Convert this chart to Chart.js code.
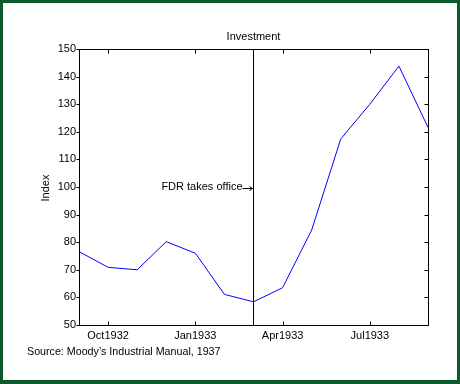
<!DOCTYPE html>
<html>
<head>
<meta charset="utf-8">
<script src="https://cdn.jsdelivr.net/npm/chart.js"></script>
<style>
  html, body { margin: 0; padding: 0; background: #fff; }
  #frame {
    width: 460px; height: 384px; box-sizing: border-box;
    border-style: solid; border-color: #0b5a2e;
    border-width: 3px 3px 4px 3px; background: #fff;
  }
  canvas { display: block; }
</style>
</head>
<body>
<div id="frame"><canvas id="myChart" width="454" height="377"></canvas></div>
<script>
// monthly observations, Sep1932 .. Sep1933
const months = ['Sep1932','Oct1932','Nov1932','Dec1932','Jan1933','Feb1933','Mar1933',
                'Apr1933','May1933','Jun1933','Jul1933','Aug1933','Sep1933'];
const investment = [76.6, 70.9, 70.0, 80.2, 76.0, 61.1, 58.4, 63.5, 84.4, 117.4, 130.0, 143.8, 121.6];
const xTickIdx = [1, 4, 7, 10];
const fdrIdx = 6;        // March 1933
const fdrLabelValue = 100;

const FONT = '11px "Liberation Sans", Arial, Helvetica, sans-serif';

const points = investment.map((v, i) => ({ x: i, y: v }));

const framePlugin = {
  id: 'framePlugin',
  afterDraw(chart) {
    const ctx = chart.ctx;
    const a = chart.chartArea;
    const xs = chart.scales.x, ys = chart.scales.y;
    const L = Math.round(a.left) + 0.5, R = Math.round(a.right) + 0.5;
    const T = Math.round(a.top) + 0.5, B = Math.round(a.bottom) + 0.5;
    ctx.save();
    ctx.strokeStyle = '#000';
    ctx.lineWidth = 1;
    ctx.strokeRect(L, T, R - L, B - T);

    ctx.beginPath();
    // y ticks: outward on left, inward on right
    for (let v = 50; v <= 150; v += 10) {
      const y = Math.round(ys.getPixelForValue(v)) + 0.5;
      ctx.moveTo(L - 3, y); ctx.lineTo(L, y);
      ctx.moveTo(R - 4, y); ctx.lineTo(R, y);
    }
    // x ticks inward top and bottom
    xTickIdx.forEach(i => {
      const x = Math.round(xs.getPixelForValue(i)) + 0.5;
      ctx.moveTo(x, B); ctx.lineTo(x, B - 4);
      ctx.moveTo(x, T); ctx.lineTo(x, T + 4);
    });
    ctx.stroke();

    // FDR vertical line
    const fx = Math.round(xs.getPixelForValue(fdrIdx)) - 0.5;
    ctx.beginPath();
    ctx.moveTo(fx, T); ctx.lineTo(fx, B);
    ctx.stroke();

    ctx.fillStyle = '#000';
    ctx.font = FONT;

    // FDR annotation with arrow
    const fy = Math.round(ys.getPixelForValue(fdrLabelValue));
    ctx.textAlign = 'right';
    ctx.textBaseline = 'middle';
    ctx.fillText('FDR takes office', fx - 11, fy);
    ctx.beginPath();
    ctx.moveTo(fx - 11, fy + 1.5); ctx.lineTo(fx - 1, fy + 1.5);
    ctx.moveTo(fx - 4, fy - 0.5); ctx.lineTo(fx - 1, fy + 1.5); ctx.lineTo(fx - 4, fy + 3.5);
    ctx.stroke();

    // title
    ctx.textAlign = 'center';
    ctx.fillText('Investment', (a.left + a.right) / 2, 34);

    // y axis title
    ctx.save();
    ctx.translate(43, (a.top + a.bottom) / 2 + 1);
    ctx.rotate(-Math.PI / 2);
    ctx.fillText('Index', 0, 0);
    ctx.restore();

    // source note
    ctx.textAlign = 'left';
    ctx.font = '10.7px "Liberation Sans", Arial, Helvetica, sans-serif';
    ctx.fillText('Source: Moody\u2019s Industrial Manual, 1937', 24, 349);
    ctx.restore();
  }
};

new Chart(document.getElementById('myChart'), {
  type: 'line',
  data: {
    datasets: [{
      data: points,
      borderColor: '#0000ff',
      borderWidth: 1,
      pointRadius: 0,
      tension: 0,
      fill: false
    }]
  },
  options: {
    responsive: false,
    devicePixelRatio: 1,
    animation: false,
    layout: { padding: { top: 46, right: 29, bottom: 35, left: 0 } },
    plugins: { legend: { display: false }, tooltip: { enabled: false } },
    scales: {
      x: {
        type: 'linear',
        min: 0, max: 12,
        grid: { display: false, drawTicks: false },
        border: { display: false },
        afterBuildTicks: s => { s.ticks = xTickIdx.map(v => ({ value: v })); },
        afterFit: s => { s.height = 20; },
        ticks: {
          padding: 4,
          maxRotation: 0,
          autoSkip: false,
          color: '#000',
          font: { family: '"Liberation Sans", Arial, sans-serif', size: 11 },
          callback: v => months[v]
        }
      },
      y: {
        min: 50, max: 150,
        grid: { display: false, drawTicks: false },
        border: { display: false },
        afterFit: s => { s.width = 76; },
        ticks: {
          stepSize: 10,
          padding: 3,
          color: '#000',
          font: { family: '"Liberation Sans", Arial, sans-serif', size: 11 }
        }
      }
    }
  },
  plugins: [framePlugin]
});
</script>
</body>
</html>
